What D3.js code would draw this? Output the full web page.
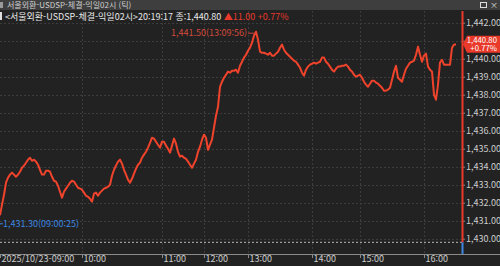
<!DOCTYPE html>
<html lang="ko">
<head>
  <meta charset="UTF-8">
  <title>USDSP tick chart</title>
  <script src="https://d3js.org/d3.v7.min.js"></script>
  <style>
    body { margin: 0; background: #222; }
    svg { display: block; }
    text { font-family: "Liberation Sans Narrow", "Noto Sans CJK KR", sans-serif; font-size: 9px; }
    .grid line { stroke: #3c3c3c; stroke-dasharray: 2,2; }
    .axis path, .axis line { stroke: #8a8a8a; }
    .axis text { fill: #cccccc; }
  </style>
</head>
<body>
  <div id="chart"></div>

  <script>
    // tick prices, one entry per sampled tick (index -> x)
    const prices = [
      1431.30, 1431.89, 1432.44, 1433.11, 1433.39, 1433.56, 1433.67, 1433.56, 1433.44, 1433.56,
      1433.72, 1433.94, 1434.06, 1434.22, 1434.39, 1434.50, 1434.33, 1434.39, 1434.28, 1434.11,
      1433.83, 1433.56, 1433.56, 1433.78, 1433.78, 1433.72, 1433.44, 1433.22, 1433.17, 1432.94,
      1432.61, 1432.28, 1432.61, 1432.78, 1432.94, 1433.11, 1433.22, 1433.17, 1433.00, 1432.83,
      1432.78, 1432.72, 1432.56, 1432.39, 1432.33, 1432.22, 1432.06, 1432.50, 1432.56, 1432.39,
      1432.56, 1432.67, 1432.78, 1432.83, 1432.89, 1433.00, 1433.50, 1433.83, 1434.06, 1434.28,
      1434.39, 1434.17, 1433.83, 1433.56, 1433.28, 1433.11, 1433.33, 1433.61, 1433.89, 1434.11,
      1434.22, 1434.50, 1434.67, 1434.83, 1435.06, 1435.33, 1435.61, 1435.56, 1435.39, 1435.22,
      1435.06, 1435.39, 1435.39, 1435.17, 1435.00, 1434.78, 1435.17, 1435.56, 1435.28, 1434.83,
      1434.56, 1434.61, 1434.50, 1434.44, 1434.28, 1434.11, 1433.94, 1434.17, 1434.39, 1434.83,
      1435.11, 1435.50, 1435.78, 1435.61, 1434.94, 1435.22, 1435.50, 1436.17, 1436.83, 1437.33,
      1438.44, 1438.72, 1438.94, 1439.11, 1439.28, 1439.22, 1439.33, 1439.33, 1439.39, 1439.22,
      1439.61, 1439.83, 1440.06, 1440.22, 1440.44, 1440.61, 1440.89, 1441.28, 1441.50, 1441.06,
      1440.39, 1440.33, 1440.33, 1440.28, 1440.22, 1440.33, 1440.17, 1440.17, 1440.28, 1440.39,
      1440.61, 1440.78, 1440.50, 1440.33, 1440.22, 1440.11, 1440.00, 1439.89, 1439.83, 1439.67,
      1439.50, 1439.22, 1439.06, 1439.39, 1439.56, 1439.67, 1439.72, 1439.78, 1439.72, 1439.78,
      1439.83, 1440.06, 1440.06, 1439.83, 1439.72, 1439.56, 1439.39, 1439.28, 1439.44, 1439.56,
      1439.56, 1439.61, 1439.61, 1439.67, 1439.56, 1439.39, 1439.28, 1439.11, 1439.00, 1439.06,
      1439.11, 1438.94, 1438.72, 1438.56, 1438.44, 1438.61, 1438.78, 1438.78, 1438.67, 1438.61,
      1438.50, 1438.39, 1438.22, 1438.22, 1438.28, 1438.39, 1438.83, 1439.28, 1439.61, 1438.94,
      1438.83, 1438.72, 1439.11, 1439.44, 1439.61, 1439.78, 1439.83, 1439.89, 1440.22, 1440.67,
      1440.22, 1439.83, 1440.17, 1440.28, 1439.56, 1439.39, 1439.28, 1438.00, 1437.72, 1438.56,
      1439.78, 1439.94, 1439.67, 1439.67, 1439.67, 1439.67, 1440.61, 1440.78, 1440.80
    ];

    // x axis: tick index where each hour starts
    const hourIndex = [0, 41, 81, 102, 124, 156, 180, 212];
    const hourLabels = ["2025/10/23-09:00", "10:00", "11:00", "12:00", "13:00", "14:00", "15:00", "16:00"];
    const priceTicks = [1430, 1431, 1432, 1433, 1434, 1435, 1436, 1437, 1438, 1439, 1440, 1441, 1442];

    const prevClose = 1429.80;
    const lastPrice = 1440.80;
    const change = 11.00;
    const changePct = 0.77;
    const lastTime = "20:19:17";
    const highIdx = 128, highTime = "13:09:56";
    const lowIdx = 0, lowTime = "09:00:25";
    const title = "서울외환-USDSP-체결-익일02시";

    const W = 500, H = 266;
    const plot = { left: 0, right: 462, top: 11, bottom: 254 };
    const fmt = d3.format(",.2f");

    const svg = d3.select("#chart").append("svg")
      .attr("width", W).attr("height", H);

    svg.append("rect").attr("width", W).attr("height", H).attr("fill", "#222");

    const x = d3.scaleLinear().domain([0, 231]).range([plot.left, plot.right]);
    const y = d3.scaleLinear().domain([1429.15, 1442.65]).range([plot.bottom, plot.top]);
    const ty = y(lastPrice);

    // grid
    const grid = svg.append("g").attr("class", "grid");
    grid.selectAll(".h").data(priceTicks).enter().append("line")
      .attr("x1", plot.left).attr("x2", plot.right)
      .attr("y1", d => Math.round(y(d)) + 0.5).attr("y2", d => Math.round(y(d)) + 0.5);
    grid.selectAll(".v").data(hourIndex.slice(1)).enter().append("line")
      .attr("x1", d => Math.round(x(d)) + 0.5).attr("x2", d => Math.round(x(d)) + 0.5)
      .attr("y1", plot.top).attr("y2", plot.bottom);

    // previous close
    svg.append("line")
      .attr("x1", plot.left).attr("x2", plot.right)
      .attr("y1", y(prevClose)).attr("y2", y(prevClose))
      .attr("stroke", "#bbb").attr("stroke-dasharray", "2,2");

    // x axis
    const xAxis = svg.append("g").attr("class", "axis")
      .attr("transform", `translate(0,${plot.bottom})`)
      .call(d3.axisBottom(x).tickValues(hourIndex).tickSize(4).tickSizeOuter(0)
        .tickFormat((d, i) => hourLabels[i]));
    xAxis.select(".domain").attr("d", `M0,0.5H${W}`);
    xAxis.selectAll("text").attr("text-anchor", "start").attr("x", 1).attr("y", 2);

    // y axis (label hidden under the last-price tag)
    const yAxis = svg.append("g").attr("class", "axis")
      .attr("transform", `translate(${plot.right},0)`)
      .call(d3.axisRight(y).tickValues(priceTicks).tickSize(3).tickSizeOuter(0).tickFormat(fmt));
    yAxis.select(".domain").remove();
    yAxis.selectAll("text").attr("x", 4);
    yAxis.selectAll(".tick").filter(d => Math.abs(y(d) - ty) < 10).select("text").remove();

    // axis spine: red above previous close, blue below
    svg.append("line").attr("x1", plot.right + 0.5).attr("x2", plot.right + 0.5)
      .attr("y1", plot.top).attr("y2", y(prevClose))
      .attr("stroke", "#e8392a").attr("stroke-width", 2);
    svg.append("line").attr("x1", plot.right + 0.5).attr("x2", plot.right + 0.5)
      .attr("y1", y(prevClose)).attr("y2", plot.bottom)
      .attr("stroke", "#3d86e0").attr("stroke-width", 2);

    // price line
    const line = d3.line().x((d, i) => x(i)).y(d => y(d));
    svg.append("path").datum(prices)
      .attr("d", line)
      .attr("fill", "none")
      .attr("stroke", "#f0432c")
      .attr("stroke-width", 2)
      .attr("stroke-linejoin", "round");

    // high marker
    const hx = x(highIdx), hy = y(prices[highIdx]);
    svg.append("line").attr("x1", hx - 8).attr("x2", hx).attr("y1", hy + 1.5).attr("y2", hy + 1.5)
      .attr("stroke", "#c9463a");
    svg.append("text").attr("x", hx - 9).attr("y", hy + 1.5).attr("dy", "0.35em")
      .attr("text-anchor", "end").attr("fill", "#d24a3c")
      .text(`${fmt(prices[highIdx])}(${highTime})`);

    // low marker
    const lx = x(lowIdx), ly = y(prices[lowIdx]) + 8.5;
    svg.append("line").attr("x1", lx).attr("x2", lx + 3).attr("y1", ly).attr("y2", ly)
      .attr("stroke", "#3d86e0");
    svg.append("text").attr("x", lx + 3).attr("y", ly).attr("dy", "0.35em")
      .attr("fill", "#3d86e0")
      .text(`${fmt(prices[lowIdx])}(${lowTime})`);

    // last price tag
    svg.append("path")
      .attr("d", `M${plot.right + 1},${ty} L${plot.right + 5},${ty - 8.5} H${W} V${ty + 8.5} H${plot.right + 5} Z`)
      .attr("fill", "#e8392a");
    svg.append("text").attr("x", W - 3).attr("y", ty - 3.8).attr("dy", "0.35em")
      .attr("text-anchor", "end").attr("fill", "#fff").style("font-size", "7.8px").text(fmt(lastPrice));
    svg.append("text").attr("x", W - 3).attr("y", ty + 3.8).attr("dy", "0.35em")
      .attr("text-anchor", "end").attr("fill", "#fff").style("font-size", "7.8px")
      .text(`+${changePct.toFixed(2)}%`);

    // window header
    svg.append("rect").attr("width", W).attr("height", 10).attr("fill", "#3e3e3e");
    svg.append("rect").attr("x", 0).attr("y", 2).attr("width", 3).attr("height", 6).attr("fill", "#999");
    svg.append("text").attr("x", 7).attr("y", 5.5).attr("dy", "0.35em").attr("fill", "#d0d0d0")
      .style("font-size", "8px").text(`${title} (틱)`);
    svg.append("rect").attr("x", 480.5).attr("y", 2.5).attr("width", 6).attr("height", 5)
      .attr("fill", "none").attr("stroke", "#ddd");
    svg.append("text").attr("x", 494).attr("y", 5.5).attr("dy", "0.35em").attr("text-anchor", "middle")
      .attr("fill", "#ddd").style("font-size", "8px").text("×");

    // quote line
    svg.append("rect").attr("x", 0).attr("y", 12).attr("width", 2).attr("height", 8).attr("fill", "#ddd");
    const q = svg.append("text").attr("x", 5).attr("y", 16.5).attr("dy", "0.35em");
    q.append("tspan").attr("fill", "#e8e8e8").text(`<${title}>${lastTime} 종:${fmt(lastPrice)} `);
    q.append("tspan").attr("fill", "#e8392a").text(`▲${fmt(change)} +${changePct.toFixed(2)}%`);
  </script>
</body>
</html>
